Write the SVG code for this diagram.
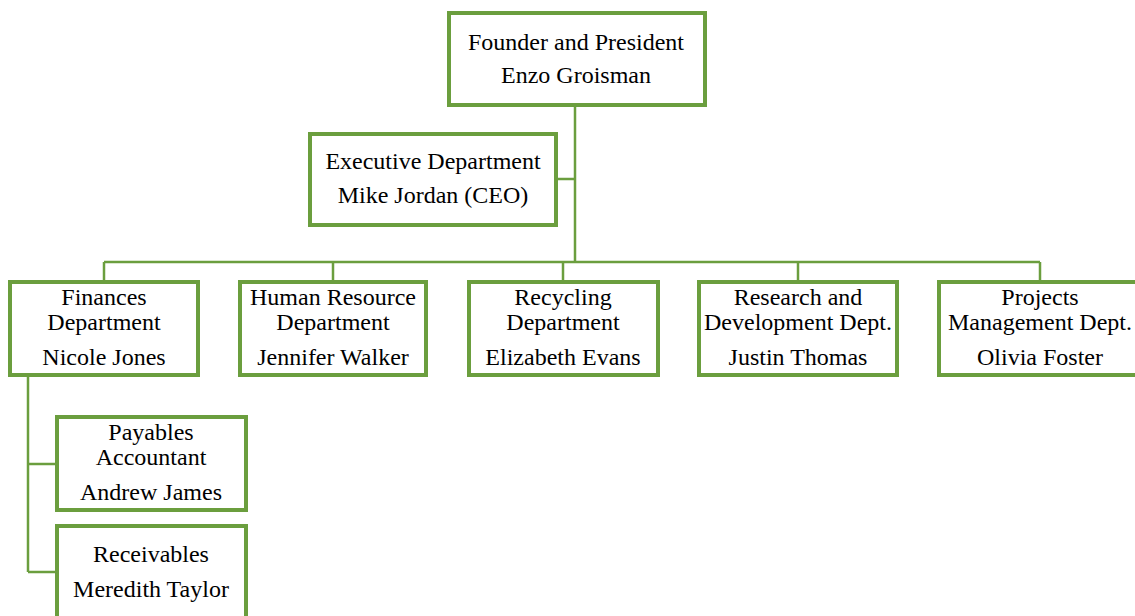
<svg xmlns="http://www.w3.org/2000/svg" width="1135" height="616" viewBox="0 0 1135 616">
  <style>
    .box { fill: #ffffff; stroke: #6B9E3E; stroke-width: 4; }
    .link { fill: none; stroke: #6B9E3E; stroke-width: 2.5; }
    text { font-family: "Liberation Serif", "Times New Roman", serif; font-size: 24px; fill: #000000; text-anchor: middle; }
  </style>

  <!-- connectors -->
  <g id="connectors">
    <path class="link" d="M575 107 V262"/>
    <path class="link" d="M558 179 H575"/>
    <path class="link" d="M104 262 H1040"/>
    <path class="link" d="M104 262 V280"/>
    <path class="link" d="M333 262 V280"/>
    <path class="link" d="M563 262 V280"/>
    <path class="link" d="M798 262 V280"/>
    <path class="link" d="M1040 262 V280"/>
    <path class="link" d="M28 377 V572"/>
    <path class="link" d="M28 464 H55"/>
    <path class="link" d="M28 572 H55"/>
  </g>

  <!-- top level -->
  <g id="president">
    <rect class="box" x="449" y="13" width="256" height="92"/>
    <text x="576" y="50">Founder and President</text>
    <text x="576" y="83">Enzo Groisman</text>
  </g>

  <g id="executive">
    <rect class="box" x="310" y="134" width="246" height="91"/>
    <text x="433" y="169">Executive Department</text>
    <text x="433" y="203">Mike Jordan (CEO)</text>
  </g>

  <!-- departments -->
  <g id="finances">
    <rect class="box" x="10" y="282" width="188" height="93"/>
    <text x="104" y="305">Finances</text>
    <text x="104" y="330">Department</text>
    <text x="104" y="365">Nicole Jones</text>
  </g>

  <g id="human-resource">
    <rect class="box" x="240" y="282" width="186" height="93"/>
    <text x="333" y="305">Human Resource</text>
    <text x="333" y="330">Department</text>
    <text x="333" y="365">Jennifer Walker</text>
  </g>

  <g id="recycling">
    <rect class="box" x="469" y="282" width="189" height="93"/>
    <text x="563" y="305">Recycling</text>
    <text x="563" y="330">Department</text>
    <text x="563" y="365">Elizabeth Evans</text>
  </g>

  <g id="research">
    <rect class="box" x="699" y="282" width="198" height="93"/>
    <text x="798" y="305">Research and</text>
    <text x="798" y="330">Development Dept.</text>
    <text x="798" y="365">Justin Thomas</text>
  </g>

  <g id="projects">
    <rect class="box" x="939" y="282" width="202" height="93"/>
    <text x="1040" y="305">Projects</text>
    <text x="1040" y="330">Management Dept.</text>
    <text x="1040" y="365">Olivia Foster</text>
  </g>

  <!-- finance staff -->
  <g id="payables">
    <rect class="box" x="57" y="417" width="189" height="93"/>
    <text x="151" y="440">Payables</text>
    <text x="151" y="465">Accountant</text>
    <text x="151" y="500">Andrew James</text>
  </g>

  <g id="receivables">
    <rect class="box" x="57" y="526" width="189" height="96"/>
    <text x="151" y="562">Receivables</text>
    <text x="151" y="597">Meredith Taylor</text>
  </g>
</svg>
